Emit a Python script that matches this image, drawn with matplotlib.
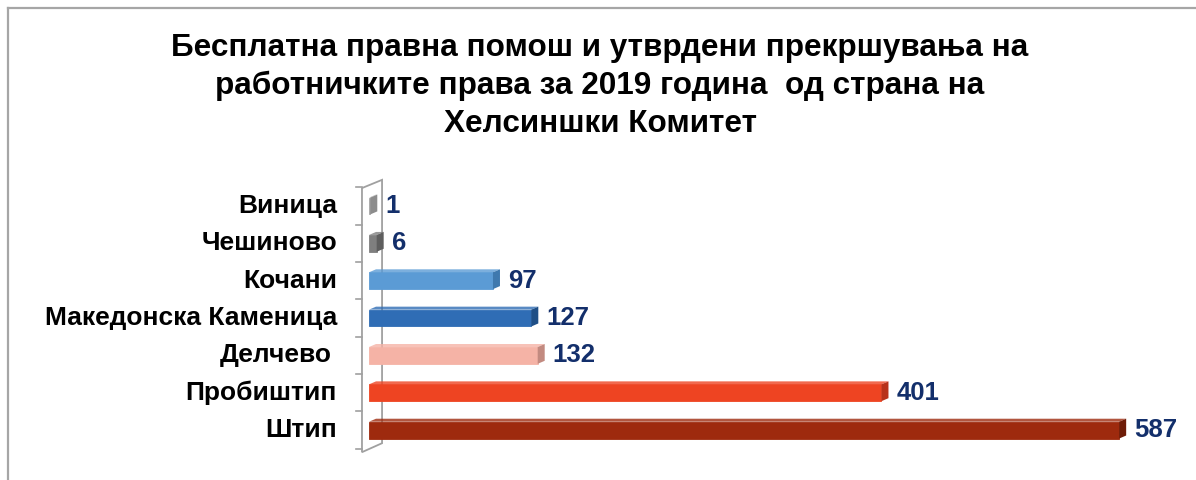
import matplotlib.pyplot as plt
from matplotlib.patches import Polygon
from matplotlib.lines import Line2D

plt.rcParams['font.family'] = ['Liberation Sans', 'DejaVu Sans']

# data, top to bottom
places = ['Виница', 'Чешиново', 'Кочани', 'Македонска Каменица', 'Делчево ', 'Пробиштип', 'Штип']
cases = [1, 6, 97, 127, 132, 401, 587]
bar_colors = ['#A6A6A6', '#7F7F7F', '#5B9BD5', '#2F6DB5', '#F5B3A6', '#EE4422', '#9E2A0E']
side_colors = ['#8C8C8C', '#5E5E5E', '#3F79AE', '#1F4F86', '#C28A80', '#B8321A', '#6E1C08']
title = ('Бесплатна правна помош и утврдени прекршувања на\n'
         'работничките права за 2019 година  од страна на\n'
         'Хелсиншки Комитет')

W, H = 1196, 480
fig = plt.figure(figsize=(W / 100, H / 100), dpi=100)
ax = fig.add_axes([340 / W, 20 / H, 840 / W, 285 / H])
ax.set_xlim(-22.7, 634.6)
ax.set_ylim(6.80, -0.83)
ax.axis('off')

# px -> data scale
sx = 840 / (634.6 + 22.7)   # px per unit x
sy = 285 / 7.63             # px per unit y

# figure frame (top and left only)
fig.add_artist(Line2D([8 / W, 1], [1 - 8 / H, 1 - 8 / H], color='#A6A6A6', lw=1.6))
fig.add_artist(Line2D([8 / W, 8 / W], [0, 1 - 8 / H], color='#A6A6A6', lw=1.6))

# side wall of the 3d chart
wl, wr = -5.5, 10.2
wall = Polygon([(wl, -0.48), (wr, -0.70), (wr, 6.35), (wl, 6.59)], closed=True,
               facecolor='white', edgecolor='#A0A0A0', lw=1.3, zorder=1)
ax.add_patch(wall)
for b in [k - 0.5 for k in range(len(places) + 1)]:
    ax.plot([wl - 6 / sx, wl], [b, b], color='#A0A0A0', lw=1.2, clip_on=False)

bh = 0.45
dx, dy = 7 / sx, 3 / sy
for i, (v, c, sc) in enumerate(zip(cases, bar_colors, side_colors)):
    top, bot = i - bh / 2, i + bh / 2
    ax.barh(i, v, height=bh, color=c, edgecolor=c, lw=0.6, zorder=3)
    ax.add_patch(Polygon([(0, top), (dx, top - dy), (v + dx, top - dy), (v, top)],
                         closed=True, facecolor=c, edgecolor='none', alpha=0.8, zorder=3))
    ax.add_patch(Polygon([(v, top), (v + dx, top - dy), (v + dx, bot - dy), (v, bot)],
                         closed=True, facecolor=sc, edgecolor='none', zorder=4))
    ax.text(v + dx + 8 / sx, i, str(v), ha='left', va='center', fontsize=18.5,
            fontweight='bold', color='#132F6B')
    ax.text(-32 / sx + (-5 / sx if places[i].endswith(' ') else 0), i, places[i].strip(),
            ha='right', va='center', fontsize=19, fontweight='bold', color='black')

fig.text(600 / W, 1 - 33 / H, title, ha='center', va='top', fontsize=22.7,
         fontweight='bold', linespacing=1.34)

fig.savefig('out.png', dpi=100)
